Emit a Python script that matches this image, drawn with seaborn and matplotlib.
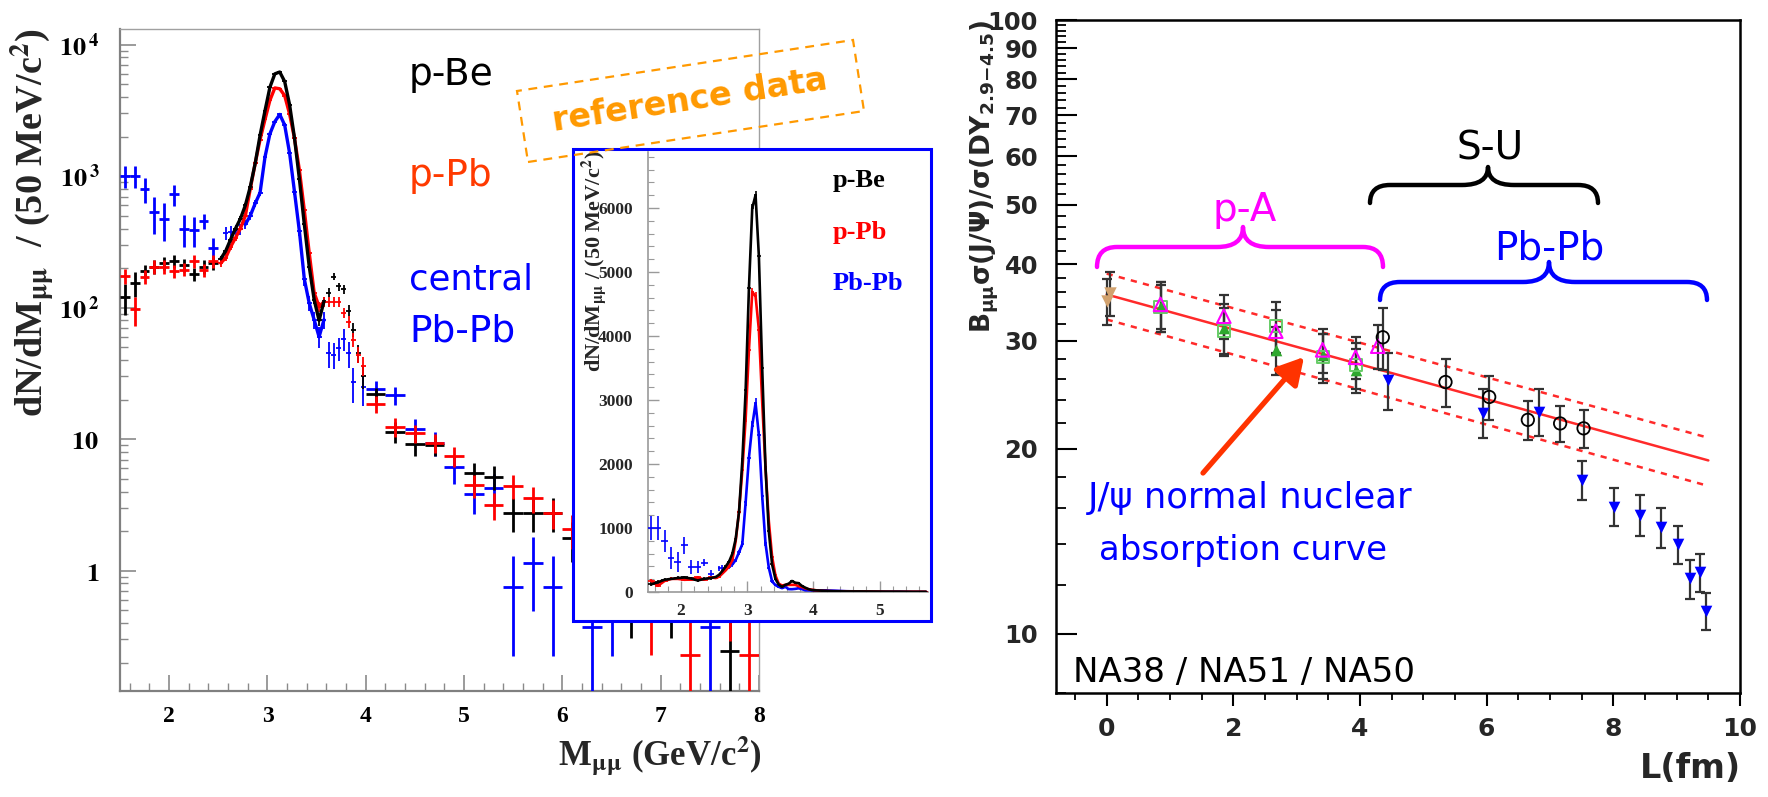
import numpy as np
import pandas as pd
import matplotlib
matplotlib.use("Agg")
import matplotlib.pyplot as plt
import seaborn as sns
from matplotlib.patches import Rectangle, PathPatch, Polygon, FancyArrowPatch
from matplotlib.path import Path
from matplotlib.ticker import NullFormatter

nan = np.nan

# ====================== LEFT PANEL DATA (dN/dM per 50 MeV/c^2) ======================
systems = ["p-Be", "p-Pb", "Pb-Pb"]
system_colors = {"p-Be": "#000000", "p-Pb": "#ff0000", "Pb-Pb": "#0000ff"}

low_mass = [1.55, 1.65, 1.75, 1.85, 1.95, 2.05, 2.15, 2.25, 2.35, 2.45]
low_halfwidth = 0.05
pbe_low = [120, 153, 191, 205, 218, 227, 211, 180, 205, 218]
pbe_low_err = [32, 33, 22, 24, 25, 26, 24, 21, 24, 25]
ppb_low = [174, 97, 172, 205, 205, 191, 195, 227, 193, 227]
ppb_low_err = [22, 24, 20, 24, 24, 22, 22, 25, 22, 25]
pbpb_low = [1000, 1000, 795, 531, 470, 728, 397, 390, 459, 283]
pbpb_low_err = [190, 190, 170, 165, 150, 130, 110, 100, 60, 58]

peak_mass = [2.525, 2.575, 2.625, 2.675, 2.725, 2.775, 2.825, 2.875, 2.925, 2.975,
             3.025, 3.075, 3.125, 3.175, 3.225, 3.275, 3.325, 3.375, 3.425, 3.475,
             3.525, 3.575, 3.625, 3.675, 3.725, 3.775, 3.825, 3.875, 3.925, 3.975]
peak_halfwidth = 0.025
pbe_peak = [235, 270, 330, 400, 475, 600, 830, 1250, 2050, 3150,
            4750, 6000, 6200, 5250, 3500, 1950, 950, 430, 205, 115,
            80, 112, 130, 172, 145, 138, 95, 68, 45, 30]
pbe_peak_err = [14, 15, 17, 18, 20, 22, 26, 32, 40, 50,
                62, 70, 72, 65, 55, 40, 28, 18, 12, 9,
                8, 9, 10, 11, 10, 10, 9, 8, 7, 6]
ppb_peak = [218, 240, 290, 340, 400, 500, 800, 1250, 1900, 2700,
            3780, 4690, 4620, 4100, 2970, 1940, 1110, 550, 260, 130,
            102, 111, 111, 111, 111, 91, 78, 57, 44, 36]
ppb_peak_err = [14, 15, 16, 17, 18, 20, 26, 32, 40, 48,
                58, 65, 65, 60, 50, 40, 30, 20, 13, 10,
                9, 9, 9, 9, 9, 8, 8, 7, 6, 6]
pbpb_peak = [nan, 368, 375, 390, 395, 430, 500, 620, 750, 1400,
             2100, 2600, 2950, 2450, 1500, 760, 380, 165, 108, 81,
             60, 81, 45, 44, 49, 58, 45, 27, nan, 25]
pbpb_peak_err = [nan, 40, 40, 36, 35, 35, 38, 40, 45, 60,
                 70, 75, 80, 72, 60, 42, 30, 18, 14, 12,
                 11, 12, 10, 10, 10, 11, 10, 8, nan, 7]

high_mass = [4.1, 4.3, 4.5, 4.7, 4.9, 5.1, 5.3, 5.5, 5.7, 5.9,
             6.1, 6.3, 6.5, 6.7, 6.9, 7.1, 7.3, 7.5, 7.7, 7.9]
high_halfwidth = 0.1
pbe_high = [21.9, 11.4, 9.2, 9.0, nan, 5.56, 5.19, 2.76, 2.76, 2.76,
            1.76, 1.2, 1.0, 0.74, nan, 0.74, nan, nan, 0.246, nan]
pbe_high_err = [2.6, 2.0, 1.7, 1.6, nan, 1.0, 1.1, 0.8, 0.8, 0.8,
                0.6, 0.5, 0.45, 0.43, nan, 0.43, nan, nan, 0.246, nan]
ppb_high = [18.5, 12.4, 11.1, 9.4, 7.45, 4.48, 3.16, 4.41, 3.55, 2.76,
            2.07, 1.5, 1.2, 0.9, 0.6, nan, 0.227, nan, 0.68, 0.227]
ppb_high_err = [2.8, 2.0, 1.8, 1.6, 1.3, 0.9, 0.75, 0.9, 0.8, 0.7,
                0.6, 0.5, 0.45, 0.4, 0.37, nan, 0.227, nan, 0.39, 0.227]
pbpb_high = [23.9, 21.6, 11.9, 9.4, 6.1, 3.83, 4.23, 0.755, 1.14, 0.755,
             nan, 0.375, 0.755, nan, nan, nan, nan, 0.375, nan, nan]
pbpb_high_err = [4.0, 3.5, 2.3, 2.0, 1.5, 1.15, 1.2, 0.53, 0.65, 0.53,
                 nan, 0.375, 0.53, nan, nan, nan, nan, 0.375, nan, nan]

fit_range = {"p-Be": (2.5, 3.6), "p-Pb": (2.5, 3.6), "Pb-Pb": (2.75, 3.6)}

# ====================== RIGHT PANEL DATA (B sigma(J/psi)/sigma(DY) vs L) ======================
pp_L = [0.0, 0.06]
pp_ratio = [34.8, 35.9]
pp_err = [3.0, 3.0]
pa_L = [0.85, 1.85, 2.67, 3.41, 3.93]
pa_tri_ratio = [34.2, 31.5, 29.0, 28.4, 26.9]
pa_tri_err = [3.2, 3.0, 2.6, 2.4, 2.2]
pa_sq_ratio = [34.0, 31.1, 31.7, 28.2, 27.4]
pa_sq_err = [3.0, 2.8, 3.0, 2.6, 2.4]
pa450_L = [0.85, 1.85, 2.67, 3.41, 3.93, 4.28]
pa450_ratio = [34.4, 32.9, 31.1, 29.0, 28.2, 29.4]
pa450_err = [3.0, 2.7, 2.6, 2.4, 2.2, 2.4]
su_L = [4.36, 5.35, 6.04, 6.65, 7.16, 7.53]
su_ratio = [30.4, 25.7, 24.3, 22.3, 22.0, 21.6]
su_err = [3.5, 2.3, 2.0, 1.65, 1.5, 1.55]
pbpb_L = [4.44, 5.94, 6.83, 7.51, 8.01, 8.42, 8.75, 9.02, 9.21, 9.37, 9.47]
pbpb_ratio = [25.9, 22.9, 23.0, 17.8, 16.1, 15.6, 14.9, 14.0, 12.3, 12.6, 10.9]
pbpb_err = [2.8, 2.1, 2.0, 1.3, 1.15, 1.2, 1.1, 1.0, 0.9, 0.9, 0.75]
curve_L = [0.0, 9.5]
curve_central = [35.7, 19.15]
curve_upper = [38.6, 20.85]
curve_lower = [32.5, 17.4]

# ====================== STYLE ======================
sns.set_theme(style="ticks")
plt.rcParams["font.family"] = ["DejaVu Sans"]
plt.rcParams["mathtext.fontset"] = "stix"
SERIF = "Liberation Serif"
SANS = "DejaVu Sans"

W, H = 1768, 797
fig = plt.figure(figsize=(W / 100, H / 100), dpi=100, facecolor="white")


def fxy(x, y):
    return (x / W, 1 - y / H)


def rect(l, t, r, b):
    return [l / W, 1 - b / H, (r - l) / W, (b - t) / H]


# build long table of spectra
rows = []
spectra = {
    "p-Be": (pbe_low, pbe_low_err, pbe_peak, pbe_peak_err, pbe_high, pbe_high_err),
    "p-Pb": (ppb_low, ppb_low_err, ppb_peak, ppb_peak_err, ppb_high, ppb_high_err),
    "Pb-Pb": (pbpb_low, pbpb_low_err, pbpb_peak, pbpb_peak_err, pbpb_high, pbpb_high_err),
}
for name, (lo, loe, pk, pke, hi, hie) in spectra.items():
    for m, v, e in zip(low_mass, lo, loe):
        rows.append((name, "low", m, v, e, low_halfwidth))
    for m, v, e in zip(peak_mass, pk, pke):
        rows.append((name, "peak", m, v, e, peak_halfwidth))
    for m, v, e in zip(high_mass, hi, hie):
        rows.append((name, "high", m, v, e, high_halfwidth))
spec = pd.DataFrame(rows, columns=["system", "region", "mass", "value", "err", "halfw"]).dropna()

draw_order = ["Pb-Pb", "p-Be", "p-Pb"]

# ---------------------- left main axes ----------------------
axL = fig.add_axes(rect(120, 29, 759, 691))
axL.set_yscale("log")
for name in draw_order:
    d = spec[spec.system == name]
    for region, lw in [("low", 2.0), ("high", 2.0), ("peak", 1.3)]:
        dd = d[d.region == region]
        axL.errorbar(dd.mass, dd.value, xerr=dd.halfw, yerr=dd.err, fmt="none",
                     ecolor=system_colors[name], elinewidth=lw, capsize=0, zorder=3)
line_parts = []
for name in systems:
    lo, hi = fit_range[name]
    line_parts.append(spec[(spec.system == name) & (spec.mass >= lo) & (spec.mass <= hi)])
line_df = pd.concat(line_parts)
sns.lineplot(data=line_df, x="mass", y="value", hue="system", hue_order=["Pb-Pb", "p-Pb", "p-Be"],
             palette=system_colors, estimator=None, legend=False, lw=2.4, ax=axL, zorder=4)
axL.set_xlim(1.5, 8.0)
axL.set_ylim(0.1217, 13160)
axL.set_xlabel("")
axL.set_ylabel("")
axL.set_facecolor("white")
for s in ["left", "bottom"]:
    axL.spines[s].set_color("#808080")
    axL.spines[s].set_linewidth(1.6)
for s in ["top", "right"]:
    axL.spines[s].set_visible(True)
    axL.spines[s].set_color("#a0a0a0")
    axL.spines[s].set_linewidth(1.0)

axL.set_xticks([2, 3, 4, 5, 6, 7, 8], labels=["2", "3", "4", "5", "6", "7", "8"],
               fontfamily=SERIF, fontweight="bold", fontsize=17)
xminor = [round(1.6 + 0.2 * i, 1) for i in range(32)]
axL.set_xticks([v for v in xminor if abs(v - round(v)) > 1e-6], minor=True)
axL.set_yticks([1, 10, 100, 1000, 10000],
               labels=[r"$\mathbf{1}$", r"$\mathbf{10}$", r"$\mathbf{10^{\,2}}$",
                       r"$\mathbf{10^{\,3}}$", r"$\mathbf{10^{\,4}}$"], fontsize=19)
axL.set_yticks([k * 10.0 ** e for e in range(-1, 5) for k in range(2, 10)
                if 0.1217 < k * 10.0 ** e < 13160], minor=True)
axL.yaxis.set_minor_formatter(NullFormatter())
axL.tick_params(which="major", direction="in", length=11.5, width=1.2, color="#8a8a8a", labelcolor="black")
axL.tick_params(which="minor", direction="in", length=6, width=1.0, color="#8a8a8a")
axL.tick_params(axis="y", which="major", pad=15)
axL.tick_params(axis="x", which="major", pad=11)

fig.text(*fxy(33, 28), r"dN/dM$_{\mathbf{\mu\mu}}$  / (50 MeV/c$^{\mathbf{2}}$)", rotation=90,
         ha="center", va="top", fontfamily=SERIF, fontweight="bold", fontsize=27.5)
fig.text(*fxy(762, 766), r"M$_{\mathbf{\mu\mu}}$ (GeV/c$^{\mathbf{2}}$)", ha="right", va="baseline",
         fontfamily=SERIF, fontweight="bold", fontsize=25)

fig.text(*fxy(409, 85), "p-Be", ha="left", va="baseline", fontsize=27, color="black", fontfamily=SANS)
fig.text(*fxy(409, 186), "p-Pb", ha="left", va="baseline", fontsize=27, color="#ff3a00", fontfamily=SANS)
fig.text(*fxy(409, 290), "central", ha="left", va="baseline", fontsize=25.5, color="#0000ff", fontfamily=SANS)
fig.text(*fxy(409, 341), "Pb-Pb", ha="left", va="baseline", fontsize=27, color="#0000ff", fontfamily=SANS)

# "reference data" dashed box
orange = "#ff9900"
box = [fxy(528, 162), fxy(864, 111), fxy(853, 40), fxy(517, 91)]
fig.add_artist(Polygon(box, closed=True, transform=fig.transFigure, fill=False,
                       edgecolor=orange, lw=1.6, linestyle=(0, (4, 3)), zorder=8))
fig.text(*fxy(690, 101), "reference data", rotation=8.7, rotation_mode="anchor",
         ha="center", va="center", fontsize=24, fontweight="bold", color=orange,
         fontfamily=SANS, zorder=8)

# ---------------------- inset (linear) ----------------------
fig.add_artist(Rectangle(fxy(573, 621), (931 - 573) / W, (621 - 149) / H, transform=fig.transFigure,
                         facecolor="white", edgecolor="#0000ff", lw=2.2, zorder=5))
axI = fig.add_axes(rect(648, 152, 928, 592), zorder=6)
axI.patch.set_alpha(0)
ins = spec[spec.mass <= 5.8]
for name in draw_order:
    d = ins[ins.system == name]
    axI.errorbar(d.mass, d.value, xerr=d.halfw, yerr=d.err, fmt="none",
                 ecolor=system_colors[name], elinewidth=1.2, capsize=0, zorder=3)
inset_line = ins[(ins.system != "Pb-Pb") | (ins.mass >= 2.75)]
sns.lineplot(data=inset_line, x="mass", y="value", hue="system", hue_order=["Pb-Pb", "p-Pb", "p-Be"],
             palette=system_colors, estimator=None, legend=False, lw=1.9, ax=axI, zorder=4)
axI.set_xlim(1.5, 5.73)
axI.set_ylim(0, 6875)
axI.set_xlabel("")
axI.set_ylabel("")
for s in ["top", "right"]:
    axI.spines[s].set_visible(False)
for s in ["left", "bottom"]:
    axI.spines[s].set_color("#9a9a9a")
    axI.spines[s].set_linewidth(1.2)
axI.set_xticks([2, 3, 4, 5], labels=["2", "3", "4", "5"], fontfamily=SERIF, fontweight="bold", fontsize=12.5)
axI.set_xticks([v for v in [round(1.6 + 0.2 * i, 1) for i in range(21)] if abs(v - round(v)) > 1e-6], minor=True)
axI.set_yticks([0, 1000, 2000, 3000, 4000, 5000, 6000],
               labels=["0", "1000", "2000", "3000", "4000", "5000", "6000"],
               fontfamily=SERIF, fontweight="bold", fontsize=12.5)
axI.set_yticks([200 * i for i in range(1, 35) if i % 5 != 0], minor=True)
axI.tick_params(which="major", direction="in", length=8, width=1.0, color="#9a9a9a")
axI.tick_params(which="minor", direction="in", length=4, width=0.8, color="#9a9a9a")
axI.tick_params(axis="y", which="major", pad=11)
axI.tick_params(axis="x", which="major", pad=8)

fig.text(*fxy(594, 150), r"dN/dM$_{\mathbf{\mu\mu}}$ / (50 MeV/c$^{\mathbf{2}}$)", rotation=90,
         ha="center", va="top", fontfamily=SERIF, fontweight="bold", fontsize=16, zorder=7)
for lbl, col, yy in [("p-Be", "#000000", 180), ("p-Pb", "#ff0000", 232), ("Pb-Pb", "#0000ff", 283)]:
    fig.text(*fxy(833, yy), lbl, ha="left", va="center", fontfamily=SERIF, fontweight="bold",
             fontsize=19, color=col, zorder=7)

# ---------------------- right panel ----------------------
axR = fig.add_axes(rect(1056, 20, 1740, 693))
axR.set_yscale("log")
red = "#ff2a2a"
sns.lineplot(x=curve_L, y=curve_central, ax=axR, color=red, lw=1.8, zorder=2)
sns.lineplot(x=curve_L, y=curve_upper, ax=axR, color=red, lw=1.8, linestyle=(0, (2.5, 2.5)), zorder=2)
sns.lineplot(x=curve_L, y=curve_lower, ax=axR, color=red, lw=1.8, linestyle=(0, (2.5, 2.5)), zorder=2)

ebar = dict(fmt="none", ecolor="#333333", elinewidth=1.6, capsize=3.5, capthick=1.6, zorder=3)
axR.errorbar(pp_L, pp_ratio, yerr=pp_err, **ebar)
axR.errorbar(pa_L, pa_tri_ratio, yerr=pa_tri_err, **ebar)
axR.errorbar(pa_L, pa_sq_ratio, yerr=pa_sq_err, **ebar)
axR.errorbar(pa450_L, pa450_ratio, yerr=pa450_err, **ebar)
axR.errorbar(su_L, su_ratio, yerr=su_err, **ebar)
axR.errorbar(pbpb_L, pbpb_ratio, yerr=pbpb_err, **ebar)

sns.scatterplot(x=pp_L, y=pp_ratio, ax=axR, marker="v", s=80, color="#d2a26e", edgecolor="#d2a26e",
                linewidth=0, zorder=5)
sns.scatterplot(x=pa_L, y=pa_tri_ratio, ax=axR, marker="^", s=70, color="#2ea82e", edgecolor="#2ea82e",
                linewidth=0, zorder=5)
sns.scatterplot(x=pa_L, y=pa_sq_ratio, ax=axR, marker="s", s=75, facecolor="none", edgecolor="#66cc66",
                linewidth=1.4, zorder=5)
sns.scatterplot(x=pa450_L, y=pa450_ratio, ax=axR, marker="^", s=95, facecolor="none", edgecolor="#ff00ff",
                linewidth=1.5, zorder=6)
sns.scatterplot(x=su_L, y=su_ratio, ax=axR, marker="o", s=80, facecolor="none", edgecolor="#000000",
                linewidth=1.3, zorder=6)
sns.scatterplot(x=pbpb_L, y=pbpb_ratio, ax=axR, marker="v", s=70, color="#0000ff", edgecolor="#0000ff",
                linewidth=0, zorder=6)

axR.set_xlim(-0.8, 10)
axR.set_ylim(8, 100)
axR.set_xlabel("")
axR.set_ylabel("")
for s in axR.spines.values():
    s.set_visible(True)
    s.set_color("black")
    s.set_linewidth(1.8)
axR.set_yticks([10, 20, 30, 40, 50, 60, 70, 80, 90, 100],
               labels=["10", "20", "30", "40", "50", "60", "70", "80", "90", "100"],
               fontfamily=SANS, fontweight="bold", fontsize=17.5)
axR.set_yticks([v for v in range(8, 100, 2) if v % 10 != 0], minor=True)
axR.yaxis.set_minor_formatter(NullFormatter())
axR.set_xticks([0, 2, 4, 6, 8, 10], labels=["0", "2", "4", "6", "8", "10"],
               fontfamily=SANS, fontweight="bold", fontsize=18)
axR.set_xticks([-0.5 + 0.5 * i for i in range(21) if (i % 4) != 1], minor=True)
axR.tick_params(axis="y", which="major", direction="in", length=15, width=1.5, color="black", pad=13)
axR.tick_params(axis="y", which="minor", direction="in", length=7.5, width=1.3, color="black")
axR.tick_params(axis="x", which="major", direction="out", length=9.5, width=1.5, color="black", pad=8)
axR.tick_params(axis="x", which="minor", direction="out", length=5, width=1.3, color="black")

fig.text(*fxy(985, 20), r"B$_{\mathbf{\mu\mu}}$σ(J/Ψ)/σ(DY$_{\mathbf{2.9\!-\!4.5}}$)", rotation=90,
         ha="center", va="top", fontfamily=SANS, fontweight="bold", fontsize=19, math_fontfamily="dejavusans")
fig.text(*fxy(1741, 778), "L(fm)", ha="right", va="baseline", fontfamily=SANS, fontweight="bold", fontsize=24)


def brace(x0, x1, xt, y_end, y_mid, y_tip, color, lw=3.2, r=20, rt=26):
    pts = [(x0, y_end), (x0, y_mid), (x0 + r, y_mid),
           (xt - rt, y_mid), (xt, y_mid), (xt, y_tip),
           (xt, y_mid), (xt + rt, y_mid),
           (x1 - r, y_mid), (x1, y_mid), (x1, y_end)]
    codes = [Path.MOVETO, Path.CURVE3, Path.CURVE3, Path.LINETO, Path.CURVE3, Path.CURVE3,
             Path.CURVE3, Path.CURVE3, Path.LINETO, Path.CURVE3, Path.CURVE3]
    verts = [fxy(x, y) for x, y in pts]
    fig.add_artist(PathPatch(Path(verts, codes), transform=fig.transFigure, fill=False,
                             edgecolor=color, lw=lw, capstyle="round", joinstyle="round", zorder=4))


brace(1097, 1383, 1243, 267, 247, 227, "#ff00ff")
brace(1370, 1598, 1488, 203, 185, 167, "#000000")
brace(1380, 1707, 1549, 300, 282, 262, "#0000ff")
fig.text(*fxy(1245, 221), "p-A", ha="center", va="baseline", fontsize=28, color="#ff00ff", fontfamily=SANS)
fig.text(*fxy(1490, 160), "S-U", ha="center", va="baseline", fontsize=28, color="#000000", fontfamily=SANS)
fig.text(*fxy(1549, 260), "Pb-Pb", ha="center", va="baseline", fontsize=28, color="#0000ff", fontfamily=SANS)

fig.text(*fxy(1250, 508), "J/ψ normal nuclear", ha="center", va="baseline", fontsize=25.5,
         color="#0000ff", fontfamily=SANS)
fig.text(*fxy(1243, 560), "absorption curve", ha="center", va="baseline", fontsize=24.5,
         color="#0000ff", fontfamily=SANS)
fig.text(*fxy(1073, 682), "NA38 / NA51 / NA50", ha="left", va="baseline", fontsize=24.5,
         color="black", fontfamily=SANS)

fig.add_artist(FancyArrowPatch(fxy(1203, 473), fxy(1304, 357), transform=fig.transFigure,
                               arrowstyle="-|>,head_length=0.8,head_width=0.45", mutation_scale=20,
                               lw=3.8, color="#ff3300", shrinkA=0, shrinkB=0, zorder=7))

fig.savefig("out.png", dpi=100, facecolor="white")
